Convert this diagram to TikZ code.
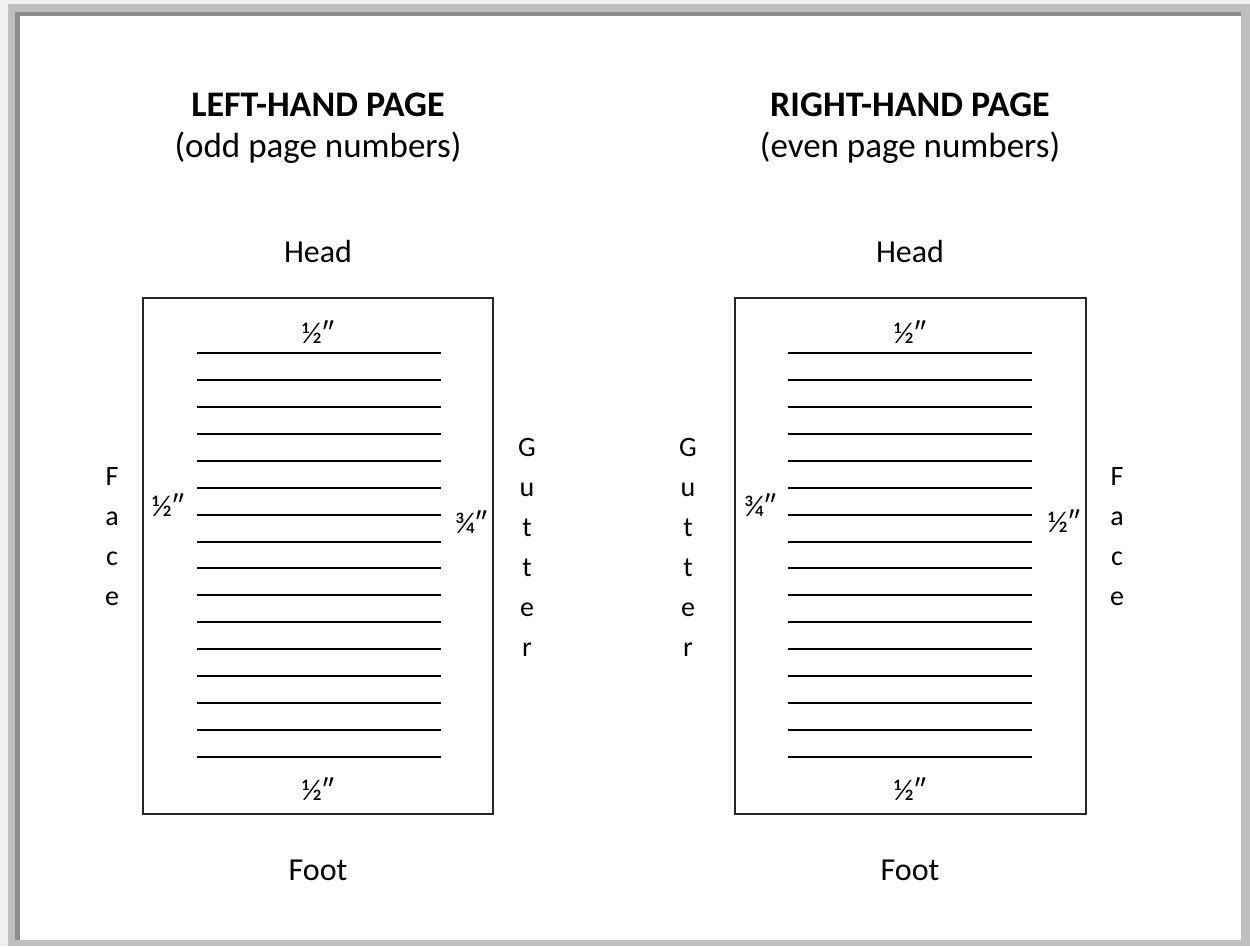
\documentclass[tikz,border=0pt]{standalone}
\usepackage{fontspec}
\setmainfont{Carlito}
\begin{document}
\begin{tikzpicture}[x=1pt,y=-1pt,
  titlebox/.style={font=\fontsize{36}{40}\selectfont\bfseries, inner sep=0pt, anchor=base},
  subbox/.style={font=\fontsize{35}{40}\selectfont, inner sep=0pt, anchor=base},
  lbl/.style={font=\fontsize{32}{40}\selectfont, inner sep=0pt, anchor=base},
  frac/.style={font=\fontsize{30}{36}\selectfont, inner sep=0pt, anchor=center},
  vert/.style={font=\fontsize{28}{40}\selectfont, inner sep=0pt, align=center, anchor=center},
  pagebox/.style={draw=black!85, line width=2pt},
  textline/.style={draw=black, line width=2pt}]
\useasboundingbox (0,0) rectangle (1250,946);
% frame
\fill[black!6] (0,0) rectangle (1250,946);
\fill[black!25] (8,4) rectangle (1250,946);
\fill[black!45] (15,12) rectangle (1241,940);
\fill[white] (20,16) rectangle (1241,940);

% ---------- left page ----------
\node[titlebox] (lt) at (318,116) {LEFT-HAND PAGE};
\node[subbox] (ls) at (318,157) {(odd page numbers)};
\node[lbl] (lhead) at (318,262) {Head};
\node[lbl] (lfoot) at (318,880) {Foot};
\node[pagebox, minimum width=350pt, minimum height=516pt, inner sep=0pt] (lpage) at (318,556) {};
\foreach \i in {0,...,15}{
  \draw[textline] (197,{353+26.93*\i}) -- (441,{353+26.93*\i});
}
\node[frac] (ltop) at (318,332) {½″};
\node[frac] (lbot) at (318,789) {½″};
\node[frac] (lleft) at (168,505) {½″};
\node[frac] (lright) at (471,522) {¾″};
\node[vert] (lface) at (112,537) {F\\a\\c\\e};
\node[vert] (lgut) at (527,547) {G\\u\\t\\t\\e\\r};

% ---------- right page ----------
\node[titlebox] (rt) at (910,116) {RIGHT-HAND PAGE};
\node[subbox] (rs) at (910,157) {(even page numbers)};
\node[lbl] (rhead) at (910,262) {Head};
\node[lbl] (rfoot) at (910,880) {Foot};
\node[pagebox, minimum width=351pt, minimum height=516pt, inner sep=0pt] (rpage) at (910.5,556) {};
\foreach \i in {0,...,15}{
  \draw[textline] (788,{353+26.93*\i}) -- (1032,{353+26.93*\i});
}
\node[frac] (rtop) at (910,332) {½″};
\node[frac] (rbot) at (910,789) {½″};
\node[frac] (rleft) at (760,505) {¾″};
\node[frac] (rright) at (1064,521) {½″};
\node[vert] (rgut) at (688,547) {G\\u\\t\\t\\e\\r};
\node[vert] (rface) at (1117,537) {F\\a\\c\\e};
\end{tikzpicture}
\end{document}
